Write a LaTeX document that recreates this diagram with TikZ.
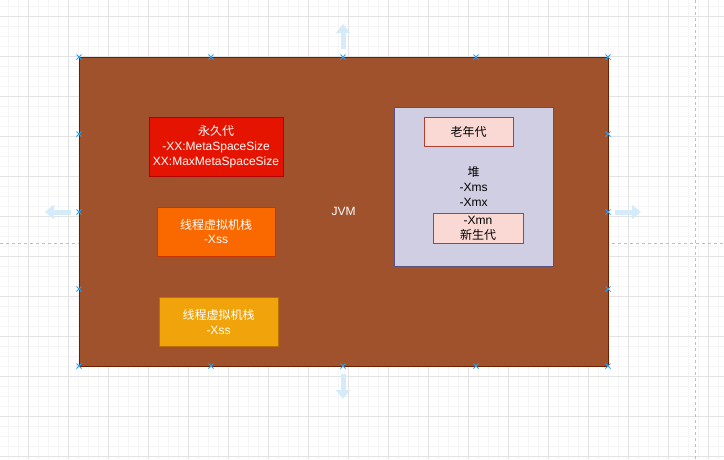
\documentclass[tikz,border=0pt]{standalone}
\usepackage{fontspec}
\setmainfont{Liberation Sans}
\newfontfamily\cjk{Noto Sans CJK SC}
\usetikzlibrary{arrows.meta}
\definecolor{sienna}{HTML}{A0522D}
\definecolor{siennaline}{HTML}{6D1F00}
\definecolor{redfill}{HTML}{E51400}
\definecolor{redline}{HTML}{B20000}
\definecolor{orfill}{HTML}{FA6800}
\definecolor{orline}{HTML}{C73500}
\definecolor{amfill}{HTML}{F0A30A}
\definecolor{amline}{HTML}{BD7000}
\definecolor{heapfill}{HTML}{D0CEE2}
\definecolor{heapline}{HTML}{56517E}
\definecolor{pinkfill}{HTML}{FAD9D5}
\definecolor{pinkline}{HTML}{AE4132}
\definecolor{handle}{HTML}{29A1F2}
\definecolor{hint}{HTML}{D6EBFA}
\tikzset{
  box/.style={draw, line width=0.8pt, inner sep=0pt, align=center,
    font=\fontsize{12}{15}\selectfont},
  whitetext/.style={text=white},
  gridminor/.style={draw=black!4, line width=0.8pt},
  gridmajor/.style={draw=black!11, line width=0.8pt},
  pagebreak/.style={draw=black!25, line width=1pt, dash pattern=on 3pt off 3pt},
  hintarrow/.style={draw=hint, line width=5pt, -{Triangle[width=14pt,length=9pt]}},
  handlemark/.style={draw=handle, line width=1pt}
}
\begin{document}
\begin{tikzpicture}[x=1pt,y=-1pt]
\useasboundingbox (0,0) rectangle (724,459);
\fill[white] (0,0) rectangle (724,459);
% grid
\foreach \gx in {8,18,...,724} \draw[gridminor] (\gx,0) -- (\gx,459);
\foreach \gy in {6,16,...,459} \draw[gridminor] (0,\gy) -- (724,\gy);
\foreach \gx in {28,68,...,724} \draw[gridmajor] (\gx,0) -- (\gx,459);
\foreach \gy in {16,56,...,459} \draw[gridmajor] (0,\gy) -- (724,\gy);
\draw[pagebreak] (695,0) -- (695,459);
\draw[pagebreak] (0,243) -- (724,243);
% hint arrows
\coordinate (upA) at (343,49);
\coordinate (upB) at (343,24);
\coordinate (dnA) at (343,374);
\coordinate (dnB) at (343,399);
\coordinate (lfA) at (71,212);
\coordinate (lfB) at (45,212);
\coordinate (rtA) at (615,212);
\coordinate (rtB) at (641,212);
\draw[hintarrow] (upA) -- (upB);
\draw[hintarrow] (dnA) -- (dnB);
\draw[hintarrow] (lfA) -- (lfB);
\draw[hintarrow] (rtA) -- (rtB);
% main
\node[box, whitetext, fill=sienna, draw=siennaline, minimum width=529pt, minimum height=309pt] (jvm) at (343.5,211.5) {JVM};
\node[box, whitetext, fill=redfill, draw=redline, minimum width=134pt, minimum height=59pt] (perm) at (216,146.5)
  {{\cjk 永久代}\\-XX:MetaSpaceSize\\XX:MaxMetaSpaceSize};
\node[box, whitetext, fill=orfill, draw=orline, minimum width=118pt, minimum height=49pt] (stackA) at (216,231.5)
  {{\cjk 线程虚拟机栈}\\-Xss};
\node[box, whitetext, fill=amfill, draw=amline, minimum width=119pt, minimum height=49pt] (stackB) at (218.5,321.5)
  {{\cjk 线程虚拟机栈}\\-Xss};
\node[box, fill=heapfill, draw=heapline, minimum width=159pt, minimum height=159pt] (heap) at (473.5,186.5)
  {{\cjk 堆}\\-Xms\\-Xmx};
\node[box, fill=pinkfill, draw=pinkline, minimum width=89pt, minimum height=29pt] (old) at (468.5,131.5)
  {{\cjk 老年代}};
\node[box, fill=pinkfill, draw=pinkline, minimum width=90pt, minimum height=30pt] (young) at (478,228)
  {-Xmn\\{\cjk 新生代}};
% selection handles
\foreach \hx in {79,211,343,476,608} {
  \foreach \hy in {57,366} {
    \draw[handlemark] (\hx-2.5,\hy-2.5) -- (\hx+2.5,\hy+2.5) (\hx-2.5,\hy+2.5) -- (\hx+2.5,\hy-2.5);
  }
}
\foreach \hy in {134,212,289} {
  \foreach \hx in {79,608} {
    \draw[handlemark] (\hx-2.5,\hy-2.5) -- (\hx+2.5,\hy+2.5) (\hx-2.5,\hy+2.5) -- (\hx+2.5,\hy-2.5);
  }
}
\end{tikzpicture}
\end{document}
